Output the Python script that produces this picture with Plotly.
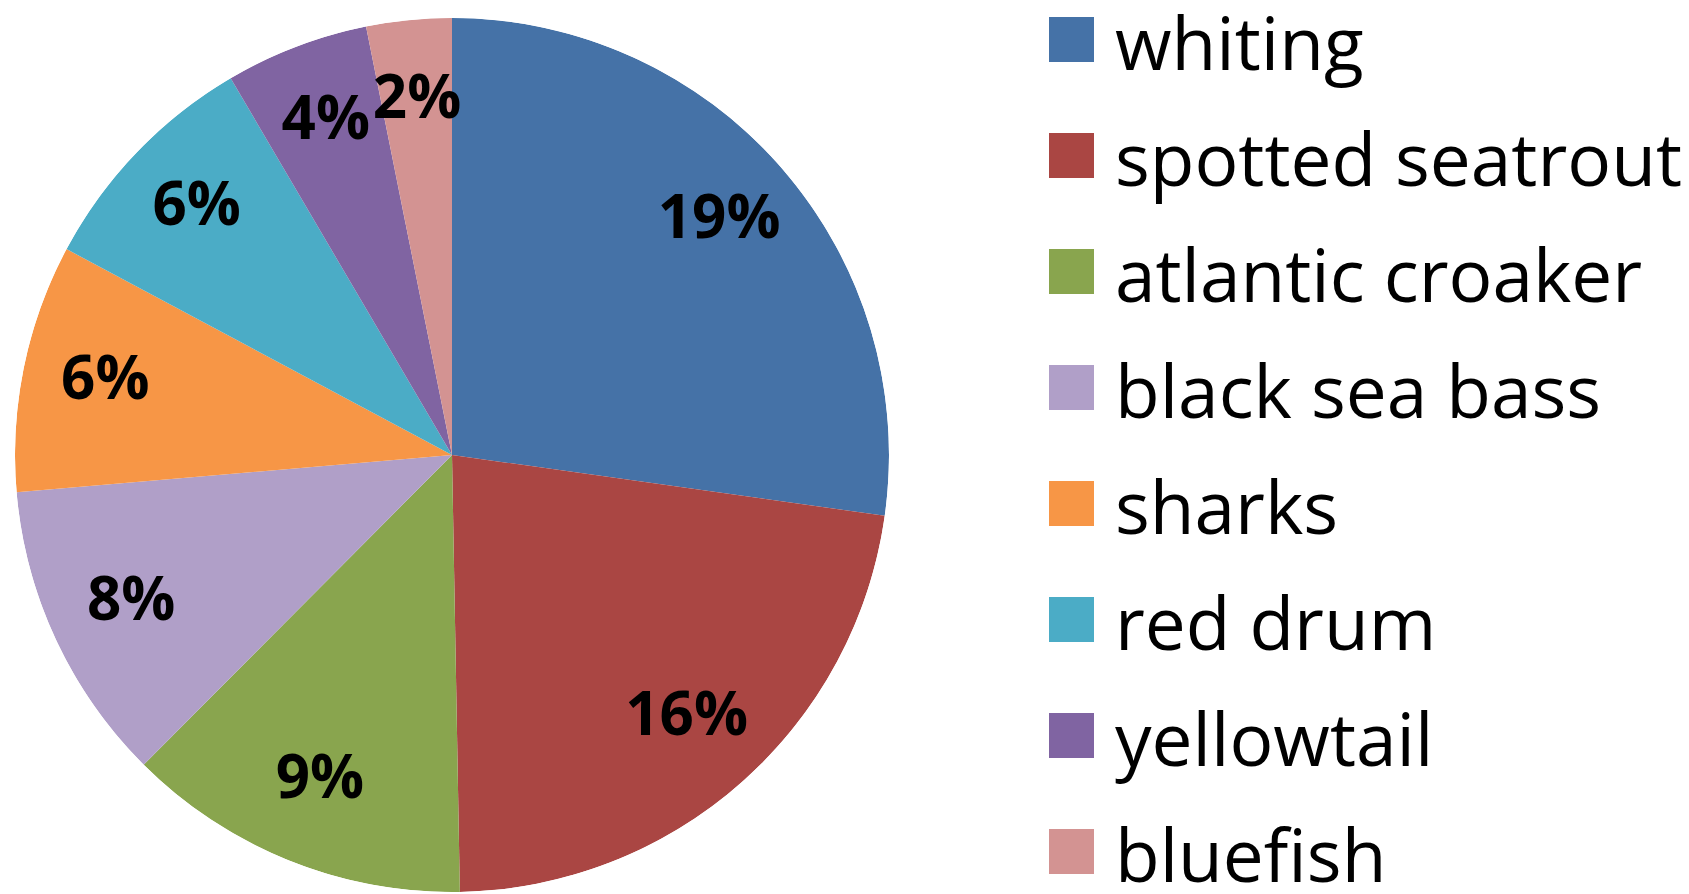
import numpy as np
import plotly.graph_objects as go

# ---- data ----
species = ["whiting", "spotted seatrout", "atlantic croaker", "black sea bass",
           "sharks", "red drum", "yellowtail", "bluefish"]
share_pct = [19.0, 15.7, 8.9, 7.8, 6.4, 6.1, 3.7, 2.2]
colors = ["#4572A7", "#AA4643", "#89A54E", "#B09FC8",
          "#F79646", "#4BACC6", "#8064A2", "#D39392"]

# page body has an 8px margin, so the figure is drawn 8px in from the corner
OFF = 8
W, H = 1689 - OFF, 894 - OFF
cx, cy, R = 452 - OFF, 455 - OFF, 437
dom_x = [(cx - R) / W, (cx + R) / W]
dom_y = [1 - (cy + R) / H, 1 - (cy - R) / H]

vals = np.array(share_pct)
cum = np.cumsum(vals)
span = vals / vals.sum() * 360
mid = (cum - vals / 2) / vals.sum() * 360

fig = go.Figure()
# pie wedges drawn on a polar axis (clockwise from 12 o'clock)
fig.add_trace(go.Barpolar(
    r=[1] * len(vals), theta=mid, width=span, base=0,
    marker=dict(color=colors, line=dict(width=0)),
    text=species, hovertemplate="%{text}: %{customdata}<extra></extra>",
    customdata=vals, showlegend=False,
))
# percentage labels at slice mid-angles
fig.add_trace(go.Scatterpolar(
    r=[0.81] * len(vals), theta=mid, mode="text",
    text=[f"{v:.0f}%" for v in vals],
    textfont=dict(family="Open Sans", size=60, color="#000000", weight="bold"),
    textposition="middle center", hoverinfo="skip", showlegend=False,
))
fig.update_layout(
    polar=dict(domain=dict(x=dom_x, y=dom_y), bgcolor="rgba(0,0,0,0)", hole=0,
               angularaxis=dict(direction="clockwise", rotation=90, visible=False,
                                showgrid=False),
               radialaxis=dict(range=[0, 1], visible=False, showgrid=False)),
)

# legend: swatches + labels
row0, step = 39.5 - OFF, 116
shapes, annots = [], []
for i, (name, col) in enumerate(zip(species, colors)):
    yc = row0 + step * i
    shapes.append(dict(type="rect", xref="paper", yref="paper",
                       x0=(1049 - OFF) / W, x1=(1094 - OFF) / W,
                       y0=1 - (yc + 22.5) / H, y1=1 - (yc - 22.5) / H,
                       fillcolor=col, line=dict(width=0)))
    annots.append(dict(xref="paper", yref="paper", x=(1113 - OFF) / W, y=1 - (yc + 2) / H,
                       xanchor="left", yanchor="middle", showarrow=False,
                       text=name, font=dict(family="Open Sans", size=73, color="#000000")))

fig.update_layout(
    width=W, height=H, margin=dict(l=0, r=0, t=0, b=0),
    paper_bgcolor="white", plot_bgcolor="white",
    shapes=shapes, annotations=annots,
)
fig.write_html("out.html")
